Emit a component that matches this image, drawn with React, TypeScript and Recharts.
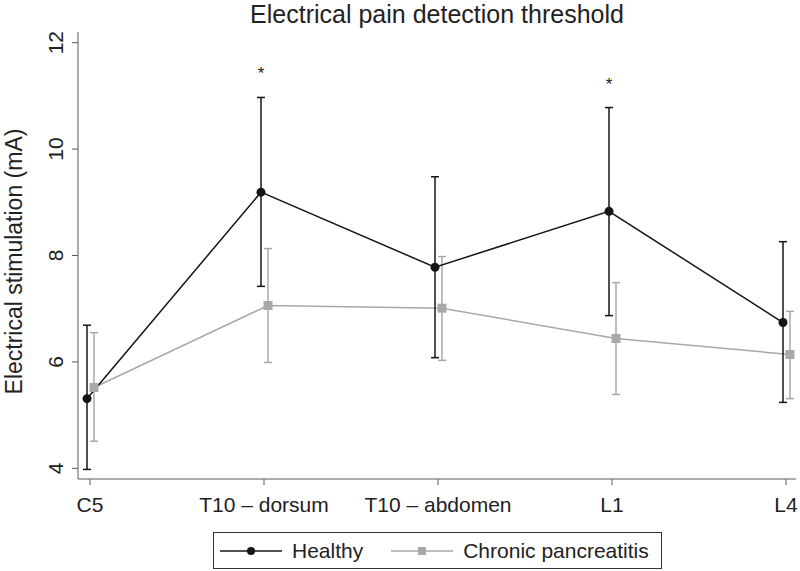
import { LineChart, Line, XAxis, YAxis, ErrorBar } from 'recharts'

const categories = ['C5', 'T10 – dorsum', 'T10 – abdomen', 'L1', 'L4']
const healthyMean = [5.31, 9.19, 7.78, 8.83, 6.74]
const healthyLow = [3.98, 7.42, 6.08, 6.87, 5.24]
const healthyHigh = [6.69, 10.97, 9.48, 10.78, 8.26]
const cpMean = [5.52, 7.06, 7.01, 6.44, 6.14]
const cpLow = [4.51, 5.99, 6.03, 5.39, 5.31]
const cpHigh = [6.55, 8.13, 7.98, 7.49, 6.95]
const significant = [false, true, false, true, false]
const yTicks = [4, 6, 8, 10, 12]

const data = categories.map((cat, i) => ({
  cat,
  h: healthyMean[i],
  hErr: [healthyMean[i] - healthyLow[i], healthyHigh[i] - healthyMean[i]],
  hStar: significant[i] ? healthyHigh[i] : null,
  c: cpMean[i],
  cErr: [cpMean[i] - cpLow[i], cpHigh[i] - cpMean[i]],
}))

const FONT = '"Liberation Sans", Arial, sans-serif'
const BLACK = '#151515'
const GREY = '#a8a8a8'
const AXIS = '#5a5a5a'

const YTick = (props: any) => {
  const { x, y, payload } = props
  return (
    <text
      x={x - 7}
      y={y}
      transform={`rotate(-90, ${x - 7}, ${y})`}
      textAnchor="middle"
      fontSize={21}
      fontFamily={FONT}
      fill="#222"
    >
      {payload.value}
    </text>
  )
}

const XTick = (props: any) => {
  const { x, y, payload } = props
  return (
    <text x={x} y={y + 25} textAnchor="middle" fontSize={21} fontFamily={FONT} fill="#222">
      {payload.value}
    </text>
  )
}

const YLabel = (props: any) => {
  const { viewBox } = props
  const cy = viewBox.y + viewBox.height / 2 + 6
  return (
    <text
      x={22}
      y={cy}
      transform={`rotate(-90, 22, ${cy})`}
      textAnchor="middle"
      fontSize={23}
      fontFamily={FONT}
      fill="#222"
    >
      Electrical stimulation (mA)
    </text>
  )
}

const HealthyDot = (props: any) => {
  const { cx, cy } = props
  if (cx == null || cy == null) return null
  return <circle cx={cx} cy={cy} r={4.5} fill={BLACK} />
}

const CpDot = (props: any) => {
  const { cx, cy } = props
  if (cx == null || cy == null) return null
  return <rect x={cx - 4.5} y={cy - 4.5} width={9} height={9} fill={GREY} />
}

const StarLabel = (props: any) => {
  const { x, y, value } = props
  if (value == null) return null
  return (
    <text x={x} y={y - 18} textAnchor="middle" fontSize={17} fontFamily={FONT} fill="#222">
      *
    </text>
  )
}

export default function App() {
  return (
    <div style={{ position: 'absolute', left: 0, top: 0, width: 800, height: 571, background: '#fff' }}>
      <div
        style={{
          position: 'absolute',
          left: 78,
          width: 718,
          top: 0,
          textAlign: 'center',
          fontFamily: FONT,
          fontSize: 25,
          lineHeight: '28px',
          color: '#222',
        }}
      >
        Electrical pain detection threshold
      </div>
      <LineChart width={800} height={571} data={data} margin={{ top: 32, right: 4, bottom: 62, left: 0 }}>
        <XAxis
          xAxisId="main"
          dataKey="cat"
          height={30}
          padding={{ left: 12, right: 10 }}
          tickSize={6}
          stroke={AXIS}
          tick={<XTick />}
          interval={0}
        />
        <XAxis xAxisId="h" dataKey="cat" hide height={0} padding={{ left: 9, right: 13 }} />
        <XAxis xAxisId="c" dataKey="cat" hide height={0} padding={{ left: 16, right: 6 }} />
        <YAxis
          width={78}
          type="number"
          domain={[3.8, 12.2]}
          ticks={yTicks}
          allowDataOverflow
          tickSize={6}
          stroke={AXIS}
          tick={<YTick />}
          label={<YLabel />}
        />
        <Line
          xAxisId="c"
          dataKey="c"
          stroke={GREY}
          strokeWidth={1.5}
          dot={<CpDot />}
          activeDot={false}
          isAnimationActive={false}
        >
          <ErrorBar dataKey="cErr" width={4} stroke={GREY} strokeWidth={1.5} />
        </Line>
        <Line
          xAxisId="h"
          dataKey="h"
          stroke={BLACK}
          strokeWidth={1.5}
          dot={<HealthyDot />}
          activeDot={false}
          isAnimationActive={false}
        >
          <ErrorBar dataKey="hErr" width={4} stroke={BLACK} strokeWidth={1.5} />
        </Line>
        <Line
          xAxisId="h"
          dataKey="hStar"
          stroke="none"
          dot={false}
          activeDot={false}
          isAnimationActive={false}
          label={<StarLabel />}
        />
      </LineChart>
      <div
        style={{
          position: 'absolute',
          left: 213,
          top: 532,
          width: 447,
          height: 35,
          border: '1px solid #333',
          display: 'flex',
          alignItems: 'center',
          fontFamily: FONT,
          fontSize: 21,
          color: '#222',
        }}
      >
        <svg width={70} height={20} style={{ marginLeft: 6 }}>
          <line x1={0} y1={10} x2={62} y2={10} stroke={BLACK} strokeWidth={1.5} />
          <circle cx={31} cy={10} r={4} fill={BLACK} />
        </svg>
        <span style={{ marginLeft: 2 }}>Healthy</span>
        <svg width={70} height={20} style={{ marginLeft: 28 }}>
          <line x1={0} y1={10} x2={62} y2={10} stroke={GREY} strokeWidth={1.5} />
          <rect x={27} y={6} width={8} height={8} fill={GREY} />
        </svg>
        <span style={{ marginLeft: 2 }}>Chronic pancreatitis</span>
      </div>
    </div>
  )
}
